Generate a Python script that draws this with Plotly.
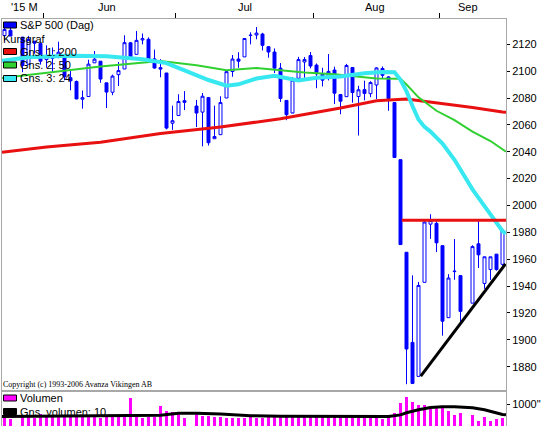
import plotly.graph_objects as go

# ---------------- data ----------------
dates = [
    "2015-05-21", "2015-05-22", "2015-05-26", "2015-05-27", "2015-05-28", "2015-05-29",
    "2015-06-01", "2015-06-02", "2015-06-03", "2015-06-04", "2015-06-05",
    "2015-06-08", "2015-06-09", "2015-06-10", "2015-06-11", "2015-06-12",
    "2015-06-15", "2015-06-16", "2015-06-17", "2015-06-18", "2015-06-19",
    "2015-06-22", "2015-06-23", "2015-06-24", "2015-06-25", "2015-06-26",
    "2015-06-29", "2015-06-30", "2015-07-01", "2015-07-02",
    "2015-07-06", "2015-07-07", "2015-07-08", "2015-07-09", "2015-07-10",
    "2015-07-13", "2015-07-14", "2015-07-15", "2015-07-16", "2015-07-17",
    "2015-07-20", "2015-07-21", "2015-07-22", "2015-07-23", "2015-07-24",
    "2015-07-27", "2015-07-28", "2015-07-29", "2015-07-30", "2015-07-31",
    "2015-08-03", "2015-08-04", "2015-08-05", "2015-08-06", "2015-08-07",
    "2015-08-10", "2015-08-11", "2015-08-12", "2015-08-13", "2015-08-14",
    "2015-08-17", "2015-08-18", "2015-08-19", "2015-08-20", "2015-08-21",
    "2015-08-24", "2015-08-25", "2015-08-26", "2015-08-27", "2015-08-28",
    "2015-08-31", "2015-09-01", "2015-09-02", "2015-09-03", "2015-09-04",
    "2015-09-08", "2015-09-09", "2015-09-10", "2015-09-11", "2015-09-14",
    "2015-09-15",
]
open_ = [
    2126.5, 2130.4, 2125.3, 2105.1, 2122.3, 2120.7,
    2108.6, 2110.4, 2110.6, 2112.4, 2095.1,
    2092.3, 2079.1, 2081.1, 2106.2, 2107.4,
    2091.3, 2084.3, 2097.4, 2101.6, 2121.1,
    2112.5, 2123.2, 2123.7, 2109.1, 2102.6,
    2098.6, 2061.2, 2067.0, 2078.0,
    2074.0, 2069.5, 2080.3, 2049.7, 2052.7,
    2080.0, 2099.7, 2109.0, 2110.6, 2126.8,
    2126.9, 2127.6, 2118.2, 2114.2, 2102.2,
    2078.2, 2068.8, 2094.7, 2106.8, 2111.6,
    2104.5, 2097.7, 2095.3, 2100.8, 2082.6,
    2081.0, 2102.7, 2081.1, 2086.2, 2083.2,
    2089.7, 2102.0, 2095.7, 2076.6, 2034.1,
    1965.2, 1898.1, 1872.8, 1942.8, 1986.1,
    1986.7, 1970.1, 1916.5, 1950.8, 1947.8,
    1927.3, 1971.5, 1942.0, 1952.3, 1963.8,
    1956.2,
]
high = [
    2134.7, 2132.2, 2125.3, 2126.2, 2122.3, 2120.7,
    2119.2, 2117.6, 2121.9, 2112.9, 2101.0,
    2093.0, 2085.6, 2108.5, 2115.0, 2107.4,
    2091.3, 2097.4, 2106.8, 2126.7, 2121.6,
    2129.9, 2128.0, 2125.1, 2116.0, 2108.9,
    2098.6, 2074.3, 2082.8, 2085.1,
    2078.6, 2083.7, 2080.3, 2074.3, 2081.3,
    2100.7, 2112.0, 2114.1, 2124.4, 2128.9,
    2132.8, 2128.5, 2118.5, 2116.9, 2106.0,
    2078.2, 2095.6, 2110.6, 2110.5, 2114.2,
    2105.7, 2102.5, 2112.7, 2103.3, 2082.6,
    2105.4, 2102.7, 2089.1, 2092.9, 2092.5,
    2102.9, 2103.5, 2096.2, 2076.6, 2034.1,
    1965.2, 1948.0, 1943.1, 1989.6, 1993.5,
    1988.2, 1970.1, 1948.9, 1975.0, 1947.8,
    1970.4, 1988.6, 1962.0, 1961.8, 1963.8,
    1981.8,
]
low = [
    2122.6, 2126.1, 2099.2, 2105.1, 2112.9, 2104.9,
    2102.5, 2099.1, 2109.6, 2093.2, 2085.7,
    2079.1, 2072.1, 2081.1, 2106.2, 2091.3,
    2072.5, 2082.1, 2088.9, 2101.6, 2109.5,
    2112.5, 2119.9, 2108.6, 2101.8, 2095.4,
    2056.6, 2056.3, 2067.0, 2071.0,
    2058.4, 2044.0, 2044.6, 2049.7, 2052.7,
    2080.0, 2095.8, 2102.5, 2110.6, 2119.9,
    2123.7, 2115.4, 2110.0, 2098.6, 2077.1,
    2063.5, 2069.1, 2094.1, 2095.0, 2102.1,
    2087.3, 2088.6, 2093.1, 2075.5, 2067.9,
    2081.0, 2076.5, 2052.1, 2078.3, 2080.6,
    2079.3, 2094.1, 2070.5, 2035.7, 1970.9,
    1867.0, 1867.1, 1872.8, 1942.8, 1975.2,
    1965.3, 1903.1, 1916.5, 1944.7, 1911.2,
    1927.3, 1953.5, 1938.0, 1944.6, 1951.5,
    1955.0,
]
close = [
    2131.0, 2126.1, 2104.2, 2123.5, 2120.8, 2107.4,
    2111.7, 2109.6, 2114.1, 2095.8, 2092.8,
    2079.3, 2080.2, 2105.2, 2108.9, 2094.1,
    2084.4, 2096.3, 2100.4, 2121.2, 2110.0,
    2122.9, 2124.2, 2108.6, 2102.3, 2101.5,
    2057.6, 2063.1, 2077.4, 2076.8,
    2068.8, 2081.3, 2046.7, 2051.3, 2076.6,
    2099.6, 2109.0, 2107.4, 2124.3, 2126.6,
    2128.3, 2119.2, 2114.2, 2102.2, 2079.7,
    2067.6, 2093.3, 2108.6, 2108.6, 2103.8,
    2098.0, 2093.3, 2099.8, 2083.6, 2077.6,
    2104.2, 2084.1, 2086.1, 2083.4, 2091.5,
    2102.4, 2096.9, 2079.6, 2035.7, 1970.9,
    1893.2, 1867.6, 1940.5, 1987.7, 1988.9,
    1972.2, 1913.9, 1946.0, 1951.1, 1921.2,
    1969.4, 1963.3, 1961.8, 1961.8, 1952.3,
    1981.8,
]
volume = [
    380, 330, 440, 430, 390, 560,
    460, 420, 430, 450, 410,
    400, 420, 430, 400, 360,
    420, 400, 420, 440, 1290,
    400, 380, 410, 430, 920,
    690, 640, 540, 360,
    600, 480, 470, 430, 400,
    380, 380, 390, 380, 500,
    360, 380, 400, 410, 420,
    430, 440, 410, 400, 470,
    430, 420, 440, 460, 420,
    400, 440, 470, 410, 380,
    360, 330, 450, 610, 1080,
    1370, 1130, 1000, 970, 780,
    860, 840, 690, 520, 600,
    520, 230, 430, 250, 350,
    380,
]

# moving averages (date, value)
ma200_dates = ["2015-05-20 14:00", "2015-05-21", "2015-06-01", "2015-06-12", "2015-06-26",
               "2015-07-10", "2015-07-24", "2015-08-07", "2015-08-17", "2015-08-24",
               "2015-08-31", "2015-09-08", "2015-09-15", "2015-09-15 14:00"]
ma200_vals = [2039.6, 2039.8, 2043.5, 2047.0, 2053.5, 2058.5, 2064.5, 2072.5, 2078.0,
              2079.3, 2076.5, 2073.0, 2069.6, 2069.4]

ma50_dates = ["2015-05-20 14:00", "2015-06-01", "2015-06-12", "2015-06-26", "2015-07-06",
              "2015-07-13", "2015-07-20", "2015-07-30", "2015-08-06", "2015-08-17",
              "2015-08-21", "2015-08-24", "2015-08-26", "2015-08-31", "2015-09-03",
              "2015-09-08", "2015-09-11", "2015-09-15 14:00"]
ma50_vals = [2094.8, 2098.5, 2103.5, 2107.5, 2104.3, 2100.6, 2102.3, 2099.0, 2097.6,
             2094.5, 2094.3, 2090.0, 2080.5, 2070.5, 2063.6, 2055.0, 2048.0, 2040.0]

ma24_dates = ["2015-05-20 14:00", "2015-05-27", "2015-06-05", "2015-06-15", "2015-06-23",
              "2015-06-29", "2015-07-02", "2015-07-08", "2015-07-13", "2015-07-15",
              "2015-07-20", "2015-07-23", "2015-07-29", "2015-08-03", "2015-08-07",
              "2015-08-13", "2015-08-18", "2015-08-20", "2015-08-21", "2015-08-24",
              "2015-08-25", "2015-08-26", "2015-08-27", "2015-08-28", "2015-08-31",
              "2015-09-01", "2015-09-03", "2015-09-08", "2015-09-10", "2015-09-14",
              "2015-09-15", "2015-09-15 14:00"]
ma24_vals = [2107.8, 2110.3, 2111.5, 2111.0, 2108.8, 2106.0, 2100.5, 2093.4, 2089.2,
             2090.2, 2094.5, 2096.6, 2093.0, 2095.0, 2096.0, 2098.4, 2099.3, 2099.2,
             2093.5, 2085.0, 2074.0, 2064.0, 2058.5, 2055.0, 2050.5, 2046.0, 2034.0,
             2012.0, 1999.5, 1987.0, 1981.0, 1979.0]

volma_dates = ["2015-05-20 14:00", "2015-06-05", "2015-06-18", "2015-06-26", "2015-07-01",
               "2015-07-06", "2015-07-10", "2015-07-17", "2015-07-24", "2015-08-07",
               "2015-08-19", "2015-08-21", "2015-08-24", "2015-08-26", "2015-08-28",
               "2015-09-01", "2015-09-03", "2015-09-08", "2015-09-10", "2015-09-15",
               "2015-09-15 14:00"]
volma_vals = [440, 460, 470, 500, 590, 600, 560, 480, 455, 450, 445, 520, 620, 760, 860,
              900, 905, 850, 760, 540, 520]

resistance_dates = ["2015-08-21 05:00", "2015-09-15 14:00"]
resistance_vals = [1989, 1989]
trend_dates = ["2015-08-26 09:00", "2015-09-15 12:00"]
trend_vals = [1873, 1956.5]

price_ticks = [1880, 1900, 1920, 1940, 1960, 1980, 2000, 2020, 2040, 2060, 2080, 2100, 2120]
month_bounds = ["2015-05-29 12:00", "2015-06-30 12:00", "2015-07-31 12:00", "2015-08-31 12:00"]
month_label_pos = ["2015-05-26 06:00", "2015-06-15", "2015-07-16", "2015-08-14 18:00", "2015-09-07 06:00"]
month_labels = ["'15 M", "Jun", "Jul", "Aug", "Sep"]

x_range = ["2015-05-20 14:00", "2015-09-15 14:00"]

# ---------------- figure ----------------
W, H = 541, 426
ML, MR, MT, MB = 2, 35, 19, 0
PW, PH = W - ML - MR, H - MT - MB
split = (H - 390.5) / PH

def px(x):
    return (x - ML) / PW

def py(y):
    return (H - MB - y) / PH

BLUE = "#0000ff"
RED = "#e81010"
GREEN = "#30d030"
CYAN = "#38e8f0"
MAGENTA = "#ff00ff"
FONT = "Liberation Sans"

fig = go.Figure()
fig.add_trace(go.Candlestick(
    x=dates, open=open_, high=high, low=low, close=close,
    xaxis="x", yaxis="y",
    increasing=dict(line=dict(color=BLUE, width=1), fillcolor="#ffffff"),
    decreasing=dict(line=dict(color=BLUE, width=1), fillcolor=BLUE),
    whiskerwidth=0, hoverinfo="skip", name="S&P 500 (Dag)"))
fig.add_trace(go.Scatter(x=ma200_dates, y=ma200_vals, mode="lines",
                         line=dict(color=RED, width=3), xaxis="x", yaxis="y"))
fig.add_trace(go.Scatter(x=ma50_dates, y=ma50_vals, mode="lines",
                         line=dict(color=GREEN, width=2), xaxis="x", yaxis="y"))
fig.add_trace(go.Scatter(x=ma24_dates, y=ma24_vals, mode="lines",
                         line=dict(color=CYAN, width=4), xaxis="x", yaxis="y"))
fig.add_trace(go.Scatter(x=resistance_dates, y=resistance_vals, mode="lines",
                         line=dict(color=RED, width=3), xaxis="x", yaxis="y"))
fig.add_trace(go.Scatter(x=trend_dates, y=trend_vals, mode="lines",
                         line=dict(color="#000000", width=3), xaxis="x", yaxis="y"))
fig.add_trace(go.Bar(x=dates, y=volume, marker=dict(color=MAGENTA, line=dict(width=0)),
                     width=0.38 * 86400000, xaxis="x2", yaxis="y2"))
fig.add_trace(go.Scatter(x=volma_dates, y=volma_vals, mode="lines",
                         line=dict(color="#000000", width=3), xaxis="x2", yaxis="y2"))

axis_common = dict(showgrid=False, zeroline=False, showline=True, linecolor="#a8a8a8",
                   linewidth=1, mirror=True)

fig.update_layout(
    width=W, height=H, margin=dict(l=ML, r=MR, t=MT, b=MB),
    paper_bgcolor="white", plot_bgcolor="white", showlegend=False,
    font=dict(family=FONT, size=11, color="black"),
    hovermode=False,
    xaxis=dict(type="date", anchor="y", side="top", range=x_range,
               rangebreaks=[dict(bounds=["sat", "mon"])],
               tickmode="array", tickvals=month_bounds, ticks="outside", ticklen=5,
               tickcolor="black", showticklabels=False,
               rangeslider=dict(visible=False), **axis_common),
    yaxis=dict(domain=[split, 1], anchor="x", side="right", range=[1862.3, 2138.8],
               tickmode="array", tickvals=price_ticks, ticks="outside", ticklen=3,
               tickcolor="black", tickfont=dict(family=FONT, size=11, color="black"),
               **axis_common),
    xaxis2=dict(type="date", anchor="y2", matches="x", range=x_range,
                rangebreaks=[dict(bounds=["sat", "mon"])],
                showticklabels=False, ticks="", rangeslider=dict(visible=False), **axis_common),
    yaxis2=dict(domain=[0, split], anchor="x2", side="right", range=[0, 1659],
                tickmode="array", tickvals=[1000], ticktext=['1000"'], ticks="outside",
                ticklen=3, tickcolor="black",
                tickfont=dict(family=FONT, size=11, color="black"), **axis_common),
    bargap=0,
)

annotations = []
for pos, lab in zip(month_label_pos, month_labels):
    annotations.append(dict(x=pos, y=py(7), xref="x", yref="paper", text=lab,
                            showarrow=False, xanchor="center", yanchor="middle",
                            font=dict(family=FONT, size=11, color="black")))

legend_items = [
    ("S&P 500 (Dag)", 25, BLUE),
    ("Kursgraf", 38.5, None),
    ("Gns. 1: 200", 51.5, RED),
    ("Gns. 2: 50", 65, GREEN),
    ("Gns. 3: 24", 78.5, CYAN),
    ("Volumen", 398, MAGENTA),
    ("Gns. volumen: 10", 411.5, "#000000"),
]
shapes = []
for text, yc, col in legend_items:
    tx = 18 if col is not None else 1
    annotations.append(dict(x=px(tx), y=py(yc), xref="paper", yref="paper", text=text,
                            showarrow=False, xanchor="left", yanchor="middle",
                            font=dict(family=FONT, size=11, color="black")))
    if col is not None:
        shapes.append(dict(type="rect", xref="paper", yref="paper",
                           x0=px(3.5), x1=px(16.5), y0=py(yc + 3), y1=py(yc - 3),
                           fillcolor=col, line=dict(color="#000000", width=1)))

annotations.append(dict(x=px(1), y=py(384), xref="paper", yref="paper",
                        text="Copyright (c) 1993-2006 Avanza Vikingen AB",
                        showarrow=False, xanchor="left", yanchor="middle",
                        font=dict(family="Liberation Serif", size=8, color="black")))

fig.update_layout(annotations=annotations, shapes=shapes)
fig.write_html("out.html", config={"displayModeBar": False, "staticPlot": True},
               post_script="document.body.style.margin='0';document.body.style.padding='0';")
